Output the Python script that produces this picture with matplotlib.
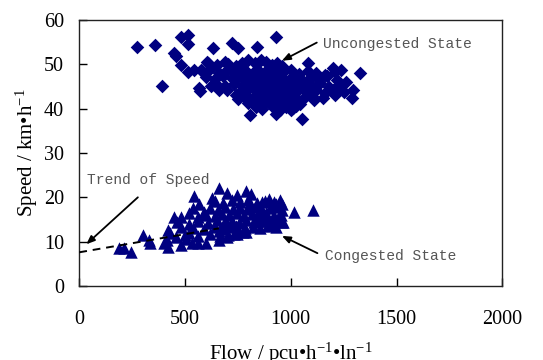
import matplotlib
matplotlib.use("Agg")
import matplotlib.pyplot as plt

plt.rcParams['mathtext.fontset'] = 'custom'
plt.rcParams['mathtext.rm'] = 'Liberation Serif'
plt.rcParams['mathtext.it'] = 'Liberation Serif'

# Uncongested state (diamonds)
unc_x = [272, 358, 481, 516, 516, 932, 720, 751, 631, 840, 450, 455, 393, 481, 568, 570,
         808, 1055, 932, 1325, 1291, 1295, 1236, 1200, 1082, 1110, 623, 660, 741, 751, 786,
         602, 544, 516, 576, 835, 874, 1000, 977,
         610, 650, 690, 705, 740, 770, 800, 830, 860, 885, 910, 935, 960,
         580, 620, 660, 700, 730, 760, 790, 820, 850, 880, 910, 940, 970, 1000, 1040, 1080, 1120, 1160, 1210,
         600, 640, 680, 720, 750, 780, 810, 840, 870, 900, 930, 960, 990, 1020, 1050, 1090, 1130, 1170, 1220, 1260,
         640, 690, 730, 770, 800, 830, 860, 890, 915, 940, 965, 990, 1015, 1040, 1070, 1100, 1140, 1180, 1230,
         700, 760, 800, 835, 865, 895, 920, 950, 975, 1000, 1030, 1060, 1090, 1120, 1160, 1200, 1250,
         780, 820, 850, 880, 905, 930, 955, 980, 1005, 1030, 1065, 1100, 1150, 1210,
         800, 845, 880, 910, 940, 965, 995, 1025, 1045,
         865, 950, 1010,
         845, 875, 905, 935, 965, 995, 1025, 860, 890, 920, 950, 980, 1010, 1040]
unc_y = [53.8, 54.3, 56.1, 56.5, 54.6, 56.1, 54.7, 53.6, 53.6, 54.0, 52.5, 51.8, 45.2, 49.9, 44.6, 44.0,
         38.6, 37.7, 38.7, 48.1, 42.3, 44.3, 48.7, 49.1, 50.2, 42.0, 45.0, 44.2, 43.1, 42.1, 43.1,
         50.6, 48.7, 48.3, 48.7, 40.4, 41.2, 39.7, 40.4,
         50.3, 49.8, 50.6, 50.1, 49.7, 50.4, 50.9, 50.2, 51.0, 50.5, 49.9, 50.3, 49.6,
         48.4, 48.9, 48.1, 48.7, 48.2, 48.8, 48.5, 48.0, 48.6, 48.3, 48.9, 48.1, 48.5, 48.8, 47.9, 48.4, 48.0, 47.6, 48.2,
         47.1, 46.8, 47.3, 46.9, 47.2, 46.7, 47.4, 47.0, 46.6, 47.3, 46.9, 47.1, 46.5, 47.2, 46.8, 47.0, 46.6, 47.3, 46.4, 45.9,
         45.8, 45.2, 45.6, 45.1, 45.9, 45.4, 45.7, 45.0, 45.5, 45.9, 45.3, 45.6, 45.1, 45.8, 45.4, 45.2, 45.7, 44.9, 45.3,
         44.2, 43.8, 44.4, 43.9, 44.1, 43.6, 44.3, 43.9, 44.5, 43.7, 44.0, 44.4, 43.8, 44.2, 43.5, 44.1, 43.7,
         42.7, 42.3, 42.9, 42.4, 42.8, 42.2, 42.6, 43.0, 42.5, 42.1, 42.7, 42.9, 42.4, 43.0,
         41.2, 40.9, 41.4, 40.6, 41.1, 40.8, 41.3, 40.7, 41.0,
         40.0, 39.6, 40.2,
         46.1, 45.3, 46.4, 44.8, 46.2, 44.9, 46.0, 43.2, 43.4, 43.1, 43.3, 41.9, 42.0, 41.8]

# Congested state (triangles)
con_x = [190, 210, 245, 300, 335, 332, 418, 413, 399, 418, 450, 481, 481, 541, 521, 533, 568,
         599, 626, 662, 662, 698, 748, 787, 810, 865, 896, 928, 959, 1016, 1107, 929, 965, 889,
         786, 731, 700,
         640, 680, 720, 760, 800, 840, 880, 920, 950,
         620, 655, 690, 725, 760, 795, 830, 865, 900, 935, 960,
         600, 640, 675, 710, 745, 780, 815, 850, 885, 920, 955,
         560, 610, 650, 685, 720, 755, 790, 825, 860, 895, 930, 960,
         540, 590, 640, 680, 715, 750, 785, 820, 855, 890,
         500, 560, 620, 665, 705, 745, 775,
         460, 480, 520, 505, 560, 455, 430, 540, 560, 590, 520,
         830, 870, 910, 940, 810, 850, 700, 740, 660]
con_y = [8.5, 8.5, 7.6, 11.5, 9.6, 10.4, 12.6, 10.4, 9.6, 8.9, 15.6, 9.3, 15.6, 20.3, 16.4, 9.6, 18.6,
         9.6, 19.8, 10.4, 22.0, 20.9, 20.5, 21.5, 20.8, 18.9, 19.6, 18.5, 18.5, 16.6, 17.1, 13.4, 14.4, 14.7,
         12.2, 11.8, 11.0,
         19.2, 18.8, 19.4, 19.0, 19.5, 18.7, 19.1, 18.9, 19.3,
         17.6, 17.2, 17.8, 17.3, 17.7, 17.4, 17.9, 17.1, 17.5, 17.8, 17.2,
         16.1, 15.8, 16.3, 15.9, 16.4, 15.7, 16.2, 15.9, 16.5, 15.8, 16.0,
         14.6, 14.2, 14.8, 14.3, 14.7, 14.1, 14.9, 14.4, 14.6, 14.2, 14.7, 14.5,
         13.1, 12.8, 13.3, 12.9, 13.2, 12.7, 13.0, 13.4, 13.1, 13.5,
         11.6, 11.3, 11.7, 11.2, 11.5, 11.8, 12.1,
         14.5, 13.2, 12.0, 10.5, 9.8, 11.0, 12.0, 17.5, 15.5, 16.8, 14.0,
         15.2, 15.6, 15.1, 15.4, 18.2, 16.9, 13.9, 13.6, 12.5]

# Trend of speed (dashed line end points)
trend_x = [0, 660]
trend_y = [7.6, 13.0]

x_ticks = [0, 500, 1000, 1500, 2000]
y_ticks = [0, 10, 20, 30, 40, 50, 60]

navy = '#000080'
serif = 'Liberation Serif'
mono = 'Liberation Mono'

fig = plt.figure(figsize=(5.43, 3.60), dpi=100)
ax = fig.add_axes([0.146, 0.2056, 0.779, 0.7389])

ax.scatter(unc_x, unc_y, marker='D', s=48, color=navy, linewidths=0, zorder=3)
ax.scatter(con_x, con_y, marker='^', s=80, color=navy, linewidths=0, zorder=3)
ax.plot(trend_x, trend_y, linestyle=(0, (4, 3)), color='black', linewidth=1.4, zorder=4)

ax.set_xlim(0, 2000)
ax.set_ylim(0, 60)
ax.set_xticks(x_ticks)
ax.set_yticks(y_ticks)
ax.tick_params(direction='in', length=6, width=1, labelsize=14.5, colors='black')
for lab in ax.get_xticklabels() + ax.get_yticklabels():
    lab.set_fontfamily(serif)
ax.tick_params(axis='y', pad=11)
ax.tick_params(axis='x', pad=17)
for sp in ax.spines.values():
    sp.set_linewidth(1.0)
    sp.set_color('#222222')

ax.set_ylabel('Speed / km\u2022h$^{-1}$', fontfamily=serif, fontsize=15, labelpad=3)
ax.set_xlabel('Flow / pcu\u2022h$^{-1}$\u2022ln$^{-1}$', fontfamily=serif, fontsize=15, labelpad=9)

arrow = dict(arrowstyle='-|>,head_length=0.5,head_width=0.2', color='black', lw=1.3, shrinkA=0, shrinkB=0)
ax.annotate('', xy=(958, 50.8), xytext=(1123, 54.9), arrowprops=arrow, zorder=5)
ax.annotate('', xy=(958, 11.3), xytext=(1126, 7.4), arrowprops=arrow, zorder=5)
ax.annotate('', xy=(33, 9.4), xytext=(277, 20.0), arrowprops=arrow, zorder=5)

tcol = '#555555'
ax.text(1151, 54.5, 'Uncongested State', fontfamily=mono, fontsize=10.5, color=tcol, va='center', ha='left')
ax.text(1160, 6.8, 'Congested State', fontfamily=mono, fontsize=10.5, color=tcol, va='center', ha='left')
ax.text(38, 23.8, 'Trend of Speed', fontfamily=mono, fontsize=10.5, color=tcol, va='center', ha='left')

fig.savefig('out.png', dpi=100)
